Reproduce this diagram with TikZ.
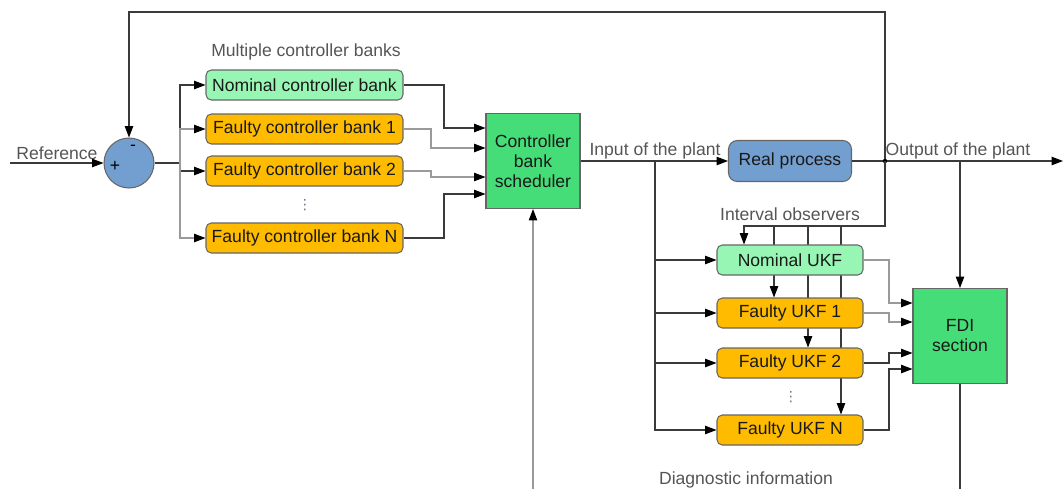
\documentclass[tikz,border=0pt]{standalone}
\usepackage{fontspec}
\setmainfont{Liberation Sans}
\newfontfamily\dotsfont{DejaVu Sans}
\usetikzlibrary{arrows.meta}
\usetikzlibrary{backgrounds}

\definecolor{nomgreen}{HTML}{98F6B4}
\definecolor{faultorange}{HTML}{FFBB00}
\definecolor{procblue}{HTML}{729FCF}
\definecolor{blockgreen}{HTML}{44DD77}
\definecolor{wiredark}{HTML}{3A3A3A}
\definecolor{wirelight}{HTML}{9A9A9A}
\definecolor{labelgray}{HTML}{555555}
\definecolor{dotspurple}{HTML}{7A6A8A}

\begin{document}
\begin{tikzpicture}[x=0.02cm,y=-0.02cm,
  >={Triangle[length=6.5pt,width=4.8pt,color=black]},
  bank/.style={draw=black!60,line width=0.6pt,rounded corners=3pt,
    minimum width=3.94cm,minimum height=0.6cm,inner sep=0pt,
    text=black!90,font=\fontsize{10}{11.4}\selectfont},
  ukf/.style={bank,minimum width=2.92cm},
  block/.style={draw=black!60,line width=0.6pt,fill=blockgreen,
    minimum width=1.88cm,minimum height=1.9cm,inner sep=0pt,align=center,
    text=black!90,font=\fontsize{10}{11.4}\selectfont},
  wire/.style={draw=wiredark,line width=0.6pt},
  lwire/.style={draw=wirelight,line width=0.6pt},
  lbl/.style={text=labelgray,inner sep=0pt,font=\fontsize{10}{12}\selectfont},
  vdot/.style={text=dotspurple,inner sep=0pt,font=\dotsfont\fontsize{8}{8}\selectfont}]
  \useasboundingbox (0,0) rectangle (1064,488);

  % nodes
  \node[circle,draw=black!60,line width=0.6pt,fill=procblue,minimum size=1cm,
    inner sep=0pt] (sum) at (129,163) {};
  \node[bank,fill=nomgreen] (ncb) at (304.5,85) {Nominal controller bank};
  \node[bank,fill=faultorange] (fcb1) at (304.5,129) {Faulty controller bank 1};
  \node[bank,fill=faultorange] (fcb2) at (304.5,171) {Faulty controller bank 2};
  \node[bank,fill=faultorange] (fcbn) at (304.5,238) {Faulty controller bank N};
  \node[block] (sched) at (533,161) {Controller\\bank\\scheduler};
  \node[bank,fill=procblue,minimum width=2.46cm,minimum height=0.82cm,
    rounded corners=5pt] (proc) at (790,161) {Real process};
  \node[ukf,fill=nomgreen] (nukf) at (790,260) {Nominal UKF};
  \node[ukf,fill=faultorange] (fukf1) at (790,313) {Faulty UKF 1};
  \node[ukf,fill=faultorange] (fukf2) at (790,363) {Faulty UKF 2};
  \node[ukf,fill=faultorange] (fukfn) at (790,430) {Faulty UKF N};
  \node[block] (fdi) at (960,336) {FDI\\section};

  \coordinate (ref) at (10,163);
  \coordinate (split) at (180,163);
  \coordinate (tap) at (655,161);
  \coordinate (dot) at (885,161);
  \coordinate (otap) at (960,161);
  \coordinate (out) at (1063,161);

  % labels
  \node[lbl] at (57,153) {Reference};
  \node[inner sep=0pt,font=\fontsize{10}{12}\selectfont] at (133,148) {-};
  \node[inner sep=0pt,font=\fontsize{10}{12}\selectfont] at (115,166) {+};
  \node[lbl] at (306,52) {Multiple controller banks};
  \node[vdot] at (305,205) {⋮};
  \node[lbl] at (655,151) {Input of the plant};
  \node[lbl] at (958,151) {Output of the plant};
  \node[lbl] at (790,214) {Interval observers};
  \node[vdot] at (791,397) {⋮};
  \node[lbl] at (746,480) {Diagnostic information};

  % arrows
  \draw[wire,->] (ref) -- (sum);
  \draw[wire,->] (dot) -- (885,12) -| (sum);
  \draw[wire] (sum) -- (split);
  \draw[wire,->] (split) |- (ncb);
  \draw[lwire,->] (split) |- (fcb1);
  \draw[wire,->] (split) |- (fcb2);
  \draw[lwire,->] (split) |- (fcbn);

  \draw[wire,->] (ncb) -| (444,128) -- (sched.west |- 0,128);
  \draw[lwire,->] (fcb1) -| (431,148) -- (sched.west |- 0,148);
  \draw[lwire,->] (fcb2) -| (431,177) -- (sched.west |- 0,177);
  \draw[wire,->] (fcbn) -| (444,194) -- (sched.west |- 0,194);

  \draw[wire,->] (sched) -- (proc);
  \draw[wire] (proc) -- (dot);
  \draw[wire,->] (dot) -- (out);
  \fill[black] (dot) circle (2.2);
  \draw[wire,->] (otap) -- (fdi);

  \draw[wire,->] (tap) |- (nukf);
  \draw[wire,->] (tap) |- (fukf1);
  \draw[wire,->] (tap) |- (fukf2);
  \draw[wire,->] (tap) |- (fukfn);

  \draw[wire,->] (dot) |- (744,226) -- (nukf.north -| 744,0);
  \begin{scope}[on background layer]
    \draw[wire,->] (774,226) -- (fukf1.north -| 774,0);
    \draw[wire,->] (808,226) -- (fukf2.north -| 808,0);
    \draw[wire,->] (841,226) -- (fukfn.north -| 841,0);
  \end{scope}

  \draw[lwire,->] (nukf) -| (889,303) -- (fdi.west |- 0,303);
  \draw[lwire,->] (fukf1) -| (889,322) -- (fdi.west |- 0,322);
  \draw[wire,->] (fukf2) -| (889,353) -- (fdi.west |- 0,353);
  \draw[wire,->] (fukfn) -| (889,369) -- (fdi.west |- 0,369);

  \draw[wire] (fdi) -- (960,500);
  \draw[lwire,->] (960,500) -| (sched);
\end{tikzpicture}
\end{document}
